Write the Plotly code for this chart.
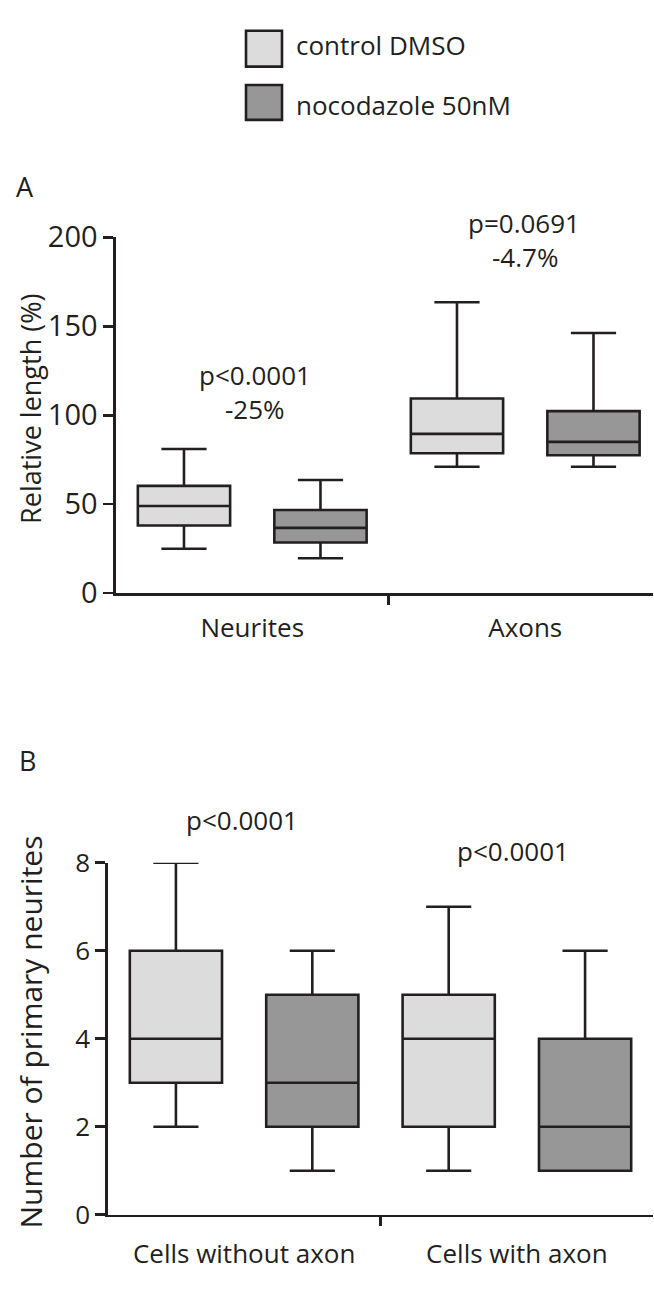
import plotly.graph_objects as go

W, H = 654, 1290

# ---------------- data ----------------
groups_a = ["Neurites", "Axons"]
ctrl_a_low = [25, 71]
ctrl_a_q1 = [38, 78.6]
ctrl_a_med = [49, 89.5]
ctrl_a_q3 = [60.3, 109.4]
ctrl_a_high = [81, 163.5]
noco_a_low = [19.6, 71]
noco_a_q1 = [28.5, 77.5]
noco_a_med = [36.7, 85]
noco_a_q3 = [46.7, 102.3]
noco_a_high = [63.6, 146.2]

groups_b = ["Cells without axon", "Cells with axon"]
ctrl_b_low = [2, 1]
ctrl_b_q1 = [3, 2]
ctrl_b_med = [4, 4]
ctrl_b_q3 = [6, 5]
ctrl_b_high = [8, 7]
noco_b_low = [1, 1]
noco_b_q1 = [2, 1]
noco_b_med = [3, 2]
noco_b_q3 = [5, 4]
noco_b_high = [6, 6]

series_names = ["control DMSO", "nocodazole 50nM"]
yticks_a = [0, 50, 100, 150, 200]
yticks_b = [0, 2, 4, 6, 8]

# ---------------- style ----------------
FONT = "Open Sans"
INK = "#231f20"
LIGHT = "#dcdcdc"
DARK = "#979797"
LW = 2.6


def fx(p):
    return p / W


def fy(p):
    return 1 - p / H


fig = go.Figure()


def add_box(xs, lo, q1, med, q3, hi, fill, name, xa, ya, ag, og):
    fig.add_trace(go.Box(
        x=xs, lowerfence=lo, q1=q1, median=med, q3=q3, upperfence=hi,
        name=name, fillcolor=fill, line=dict(color=INK, width=LW),
        whiskerwidth=0.49, xaxis=xa, yaxis=ya, showlegend=False,
        alignmentgroup=ag, offsetgroup=og,
        boxpoints=False, hoverinfo="skip"))


add_box(groups_a, ctrl_a_low, ctrl_a_q1, ctrl_a_med, ctrl_a_q3, ctrl_a_high, LIGHT, series_names[0], "x", "y", "A", "ctrl")
add_box(groups_a, noco_a_low, noco_a_q1, noco_a_med, noco_a_q3, noco_a_high, DARK, series_names[1], "x", "y", "A", "noco")
add_box(groups_b, ctrl_b_low, ctrl_b_q1, ctrl_b_med, ctrl_b_q3, ctrl_b_high, LIGHT, series_names[0], "x2", "y2", "B", "ctrl")
add_box(groups_b, noco_b_low, noco_b_q1, noco_b_med, noco_b_q3, noco_b_high, DARK, series_names[1], "x2", "y2", "B", "noco")

xfont = dict(family=FONT, size=26, color=INK)
common_x = dict(type="category", showline=True, linewidth=LW, linecolor=INK,
                ticks="outside", tickson="boundaries", ticklen=9, tickwidth=LW,
                tickcolor=INK, showgrid=False, zeroline=False, tickfont=xfont,
                fixedrange=True)
common_y = dict(showline=True, linewidth=LW, linecolor=INK, ticks="outside",
                ticklen=10, tickwidth=LW, tickcolor=INK, showgrid=False,
                zeroline=False, fixedrange=True)

fig.update_layout(
    width=W, height=H, margin=dict(l=0, r=0, t=0, b=0),
    paper_bgcolor="white", plot_bgcolor="white",
    boxmode="group", boxgap=0, boxgroupgap=0.324, showlegend=False,
    font=dict(family=FONT, color=INK),
    xaxis=dict(common_x, domain=[fx(116), fx(653)], anchor="y",
               categoryorder="array", categoryarray=groups_a, range=[-0.499, 1.468],
               ticklabelstandoff=10),
    yaxis=dict(common_y, domain=[fy(590), fy(223)], anchor="x",
               range=[0, 200], tickvals=yticks_a,
               tickfont=dict(family=FONT, size=29, color=INK)),
    xaxis2=dict(common_x, domain=[fx(108), fx(653)], anchor="y2",
                categoryorder="array", categoryarray=groups_b, range=[-0.499, 1.499],
                ticklabelstandoff=14),
    yaxis2=dict(common_y, domain=[fy(1231), fy(868)], anchor="x2",
                range=[0, 8], tickvals=yticks_b,
                tickfont=dict(family=FONT, size=26, color=INK)),
)

ann = []


def text(x, y, s, size=26, **kw):
    d = dict(x=fx(x), y=fy(y), xref="paper", yref="paper", text=s, showarrow=False,
             font=dict(family=FONT, size=size, color=INK), xanchor="center", yanchor="middle")
    d.update(kw)
    ann.append(d)


# panel letters
text(25, 171, "A", size=27)
text(27, 763, "B", size=27)
# axis titles
text(31, 400, "Relative length (%)", size=27, textangle=-90)
text(30, 1043, "Number of primary neurites", size=30, textangle=-90)
# statistics
text(255, 365, "p&lt;0.0001")
text(255, 400, "-25%")
text(524, 208, "p=0.0691")
text(525, 243, "-4.7%")
text(242, 824, "p&lt;0.0001")
text(513, 856, "p&lt;0.0001")
# legend text
text(294, 25, series_names[0], xanchor="left")
text(294, 87, series_names[1], xanchor="left")

shapes = []
for (y0, y1, c) in [(10, 47, LIGHT), (66, 102, DARK)]:
    shapes.append(dict(type="rect", xref="paper", yref="paper",
                       x0=fx(246), x1=fx(282), y0=fy(y1), y1=fy(y0),
                       fillcolor=c, line=dict(color=INK, width=LW)))

fig.update_layout(annotations=ann, shapes=shapes)
fig.write_html("out.html", config={"displayModeBar": False, "staticPlot": True},
               post_script="document.body.style.margin='0';document.body.style.overflow='hidden';")
